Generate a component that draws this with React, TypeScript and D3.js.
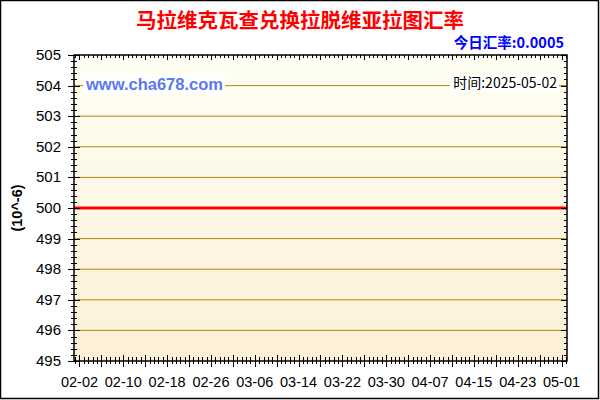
import { useEffect, useRef } from 'react';
import * as d3 from 'd3';

// chart values
const title = '马拉维克瓦查兑换拉脱维亚拉图汇率';
const todayRate = '今日汇率:0.0005';
const stamp = '时间:2025-05-02';
const site = 'www.cha678.com';
const unitLabel = '(10^-6)';

const startDay = '2025-02-01';
const endDay = '2025-05-02';
// rate stays flat the whole period (x10^-6)
const rateDays = ['2025-02-01', '2025-03-01', '2025-04-01', '2025-05-02'];
const rateValues = [500, 500, 500, 500];
const yTicks = [495, 496, 497, 498, 499, 500, 501, 502, 503, 504, 505];
const xLabelDays = [
  '2025-02-02', '2025-02-10', '2025-02-18', '2025-02-26', '2025-03-06', '2025-03-14',
  '2025-03-22', '2025-03-30', '2025-04-07', '2025-04-15', '2025-04-23', '2025-05-01',
];

const W = 600;
const H = 400;
const m = { left: 74, right: 33, top: 55, bottom: 39 };
const latin = '"Liberation Sans", Arial, sans-serif';
const cjk = '"Noto Sans CJK SC", "Liberation Sans", sans-serif';

export default function App() {
  const ref = useRef<SVGSVGElement>(null);

  useEffect(() => {
    const svg = d3.select(ref.current);
    svg.selectAll('*').remove();

    const parse = d3.timeParse('%Y-%m-%d');
    const x = d3
      .scaleTime()
      .domain([parse(startDay)!, parse(endDay)!])
      .range([m.left, W - m.right]);
    const y = d3.scaleLinear().domain([495, 505]).range([H - m.bottom, m.top]);
    const x0 = m.left, x1 = W - m.right, y0 = m.top, y1 = H - m.bottom;

    const grad = svg.append('defs').append('linearGradient')
      .attr('id', 'bg').attr('x1', 0).attr('y1', 0).attr('x2', 0).attr('y2', 1);
    grad.append('stop').attr('offset', '0%').attr('stop-color', '#fefff3');
    grad.append('stop').attr('offset', '100%').attr('stop-color', '#fdf0d8');

    svg.append('rect').attr('width', W).attr('height', H).attr('fill', '#fff');
    svg.append('rect')
      .attr('x', 0.5).attr('y', 0.5).attr('width', W - 2).attr('height', H - 2)
      .attr('fill', 'none').attr('stroke', '#000').attr('stroke-width', 1.5);

    svg.append('rect')
      .attr('x', x0).attr('y', y0).attr('width', x1 - x0).attr('height', y1 - y0)
      .attr('fill', 'url(#bg)');

    // grid
    svg.append('g').selectAll('line')
      .data(yTicks.slice(1, -1))
      .join('line')
      .attr('x1', x0).attr('x2', x1)
      .attr('y1', (d) => y(d)).attr('y2', (d) => y(d))
      .attr('stroke', '#b8860b').attr('stroke-width', 1);

    // rate line
    const pts = rateDays.map((d, i) => [x(parse(d)!), y(rateValues[i])] as [number, number]);
    svg.append('path')
      .attr('d', d3.line()(pts))
      .attr('fill', 'none').attr('stroke', '#ff0000').attr('stroke-width', 3);

    // frame
    svg.append('rect')
      .attr('x', x0).attr('y', y0).attr('width', x1 - x0).attr('height', y1 - y0)
      .attr('fill', 'none').attr('stroke', '#000').attr('stroke-width', 1.5);

    const ticks = svg.append('g').attr('stroke', '#000').attr('stroke-width', 1);
    // y ticks: major on integers, 4 minors between
    const yMinor = d3.range(495, 505.001, 0.2);
    yMinor.forEach((v) => {
      const major = Math.abs(v - Math.round(v)) < 1e-6;
      const py = Math.round(y(v)) + 0.5;
      ticks.append('line').attr('x1', x0 - (major ? 6 : 3)).attr('x2', x0 + (major ? 6 : 3))
        .attr('y1', py).attr('y2', py);
      ticks.append('line').attr('x1', x1 - (major ? 6 : 3)).attr('x2', x1)
        .attr('y1', py).attr('y2', py);
    });

    // x ticks: major every 4 days, 4 minors between
    const first = parse(xLabelDays[0])!;
    const dayPx = x(d3.timeDay.offset(first, 1)) - x(first);
    for (let k = 0; k <= 120; k++) {
      const px = x(first) + ((k - 1) * 4 * dayPx) / 5;
      if (px < x0 || px > x1 + 0.5) continue;
      const major = (k - 1) % 5 === 0;
      const rx = Math.round(px) + 0.5;
      ticks.append('line').attr('x1', rx).attr('x2', rx)
        .attr('y1', y1 - (major ? 6 : 4)).attr('y2', y1 + (major ? 6 : 3));
      ticks.append('line').attr('x1', rx).attr('x2', rx)
        .attr('y1', y0).attr('y2', y0 + (major ? 5 : 3));
    }

    // y labels
    svg.append('g').selectAll('text')
      .data(yTicks)
      .join('text')
      .attr('x', x0 - 13).attr('y', (d) => y(d) + 5)
      .attr('text-anchor', 'end')
      .attr('font-family', latin).attr('font-size', 15).attr('fill', '#000')
      .text((d) => d);

    // x labels
    const fmt = d3.timeFormat('%m-%d');
    svg.append('g').selectAll('text')
      .data(xLabelDays)
      .join('text')
      .attr('x', (d) => x(parse(d)!)).attr('y', H - 13)
      .attr('text-anchor', 'middle')
      .attr('font-family', latin).attr('font-size', 14.5).attr('fill', '#000')
      .text((d) => fmt(parse(d)!));

    svg.append('text')
      .attr('transform', `translate(22,${(y0 + y1) / 2}) rotate(-90)`)
      .attr('text-anchor', 'middle')
      .attr('font-family', latin).attr('font-size', 14.5).attr('font-weight', 'bold')
      .text(unitLabel);

    svg.append('text')
      .attr('x', W / 2).attr('y', 28)
      .attr('text-anchor', 'middle')
      .attr('font-family', cjk).attr('font-size', 20.5).attr('font-weight', 'bold')
      .attr('fill', '#ff0000')
      .text(title);

    svg.append('text')
      .attr('x', 564).attr('y', 48)
      .attr('text-anchor', 'end')
      .attr('font-family', cjk).attr('font-size', 14.5).attr('font-weight', 'bold')
      .attr('fill', '#0000ff')
      .text(todayRate);

    // watermark + time stamp
    svg.append('rect').attr('x', 83).attr('y', 74).attr('width', 142).attr('height', 21).attr('fill', '#fff');
    svg.append('text')
      .attr('x', 86).attr('y', 90)
      .attr('font-family', latin).attr('font-size', 16.5).attr('font-weight', 'bold')
      .attr('fill', '#5b79f0')
      .text(site);

    svg.append('rect').attr('x', 450).attr('y', 74).attr('width', 109).attr('height', 18).attr('fill', '#fff');
    svg.append('text')
      .attr('x', 557).attr('y', 88)
      .attr('text-anchor', 'end')
      .attr('font-family', cjk).attr('font-size', 14)
      .attr('fill', '#000')
      .text(stamp);
  }, []);

  return (
    <svg
      ref={ref}
      width={W}
      height={H}
      style={{ position: 'absolute', left: 0, top: 0, display: 'block' }}
    />
  );
}
